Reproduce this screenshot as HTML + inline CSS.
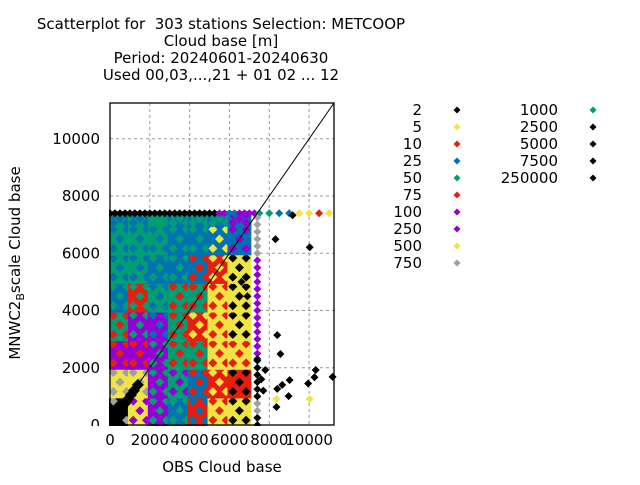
<!DOCTYPE html>
<html><head><meta charset="utf-8"><style>
body{margin:0;background:#fff;width:640px;height:480px;overflow:hidden;font-family:"Liberation Sans","DejaVu Sans",sans-serif}
svg text{font-family:"DejaVu Sans","Liberation Sans",sans-serif}
</style></head><body>
<svg id="chart" width="640" height="480">
<g id="titles" font-size="15" text-anchor="middle" fill="#000">
<text x="221" y="29">Scatterplot for &#160;303 stations Selection: METCOOP</text>
<text x="221" y="46">Cloud base [m]</text>
<text x="221" y="63">Period: 20240601-20240630</text>
<text x="221" y="80">Used 00,03,...,21 + 01 02 ... 12</text>
</g>
<g id="plot"></g>
<text x="222" y="472" font-size="15" text-anchor="middle">OBS Cloud base</text>
<text transform="translate(20,263) rotate(-90)" font-size="15" text-anchor="middle">MNWC2<tspan font-size="11" dy="4">B</tspan><tspan dy="-4">scale Cloud base</tspan></text>
<g id="legend"></g>
</svg>
<script>
const NS='http://www.w3.org/2000/svg';
const xTicks=[0,2000,4000,6000,8000,10000];
const yTicks=[0,2000,4000,6000,8000,10000];
const xMax=11250, yMax=11250;
const legendLabels=['2','5','10','25','50','75','100','250','500','750','1000','2500','5000','7500','250000'];
const legendColors=['#000','#f0e442','#e51e10','#0072b2','#009e73','#e51e10','#9400d3','#9400d3','#f0e442','#a0a0a0','#009e73','#000','#000','#000','#000'];
const cellRowsMain=[
 'KYPBRYY',
 'YYPTBRR',
 'PPPTTYY',
 'TPPTRYY',
 'BRTTTYY',
 'TTBBBRY',
 'TTTBBBB',
 'TTTBBBB'];
const cellRowsSecond=[
 'GPTTBRK',
 'GGTPRYK',
 'RRTRRRR',
 'RTBRYRK',
 'TTBRRRK',
 'BBTTRYK',
 'BBBTTYP',
 'BBTTTTP'];
const topRowX=[0,500,1000,1500,2000,2500,3000,3500,4000,4500,5000,5500,6000,6500,7000,7500,8000,8500,9000,9500,10000,10500,11000];
const topRowC=['K','K','K','K','K','K','K','K','K','K','K','P','B','P','P','T','T','B','B','Y','Y','R','Y'];
const rightColY=[0,500,1000,1500,2000,2500,3000,3500,4000,4500,5000,5500,6000,6500,7000];
const rightColC=['K','G','K','K','K','P','P','P','P','P','P','P','G','G','G'];
const ptX=[9170,8310,10030,8400,8560,7800,10330,10270,11180,9020,8400,8650,9950,8970,8360,10030,8360,7700,7600,7400,6900,6600];
const ptY=[7330,6490,6210,3140,2480,1920,1920,1670,1680,1570,1260,1400,1450,1010,630,910,910,1200,1600,2300,4500,5000];
const ptC=['K','K','K','K','K','K','K','K','K','K','K','K','K','K','K','Y','Y','K','K','K','K','K'];
const diagV=[0,150,300,450,600,750,900,1050,1200,1400];
const palette={K:'#000',Y:'#f0e442',R:'#e51e10',B:'#0072b2',T:'#009e73',P:'#9400d3',G:'#a0a0a0'};
const L=110,R=334,T=103,B=425;
const sx=v=>L+v/xMax*(R-L), sy=v=>B-v/yMax*(B-T);
const g=document.getElementById('plot');
function mk(t,a,p){const e=document.createElementNS(NS,t);for(const k in a)e.setAttribute(k,a[k]);(p||g).appendChild(e);return e;}
xTicks.forEach(v=>{if(v>0){const l=mk('line',{x1:sx(v),x2:sx(v),y1:T,y2:B,stroke:'#999','stroke-dasharray':'3,3'});

}
const t=mk('text',{x:sx(v),y:B+20,'font-size':15,'text-anchor':'middle'});t.textContent=v;

});
yTicks.forEach(v=>{if(v>0){const l=mk('line',{x1:L,x2:R,y1:sy(v),y2:sy(v),stroke:'#999','stroke-dasharray':'3,3'});

}
const t=mk('text',{x:L-10,y:sy(v)+5,'font-size':15,'text-anchor':'end'});t.textContent=v;

});
function dia(x,y,c,s){return mk('path',{d:`M${x-s},${y}L${x},${y-s}L${x+s},${y}L${x},${y+s}Z`,fill:c});}
const cellTop=[1000,2000,3000,4000,5000,6000,7000,7400];
cellRowsMain.forEach((row,r)=>{[...row].forEach((ch,c)=>{
 const x0=c*1000,x1=Math.min(c*1000+1000,7400),y0=r*1000,y1=cellTop[r];
 const rc=mk('rect',{x:sx(x0)-2,y:sy(y1)-2,width:sx(x1)-sx(x0)+4,height:sy(y0)-sy(y1)+4,fill:palette[ch]});
 
 
 const s2=palette[cellRowsSecond[r][c]];
 for(let i=0;i<3;i++)for(let j=0;j<3;j++){if((i+j)%2)continue;
  const d=dia(sx(x0+(i+0.5)*(x1-x0)/3),sy(y0+(j+0.5)*(y1-y0)/3),s2,4.5);
  
  }
});});
topRowX.forEach((v,i)=>{const d=dia(sx(v),sy(7400),palette[topRowC[i]],4);


if(v<7400){const d2=dia(sx(v+250),sy(7400),palette[topRowC[i]],4);

}});
rightColY.forEach((v,i)=>{const d=dia(sx(7400),sy(v),palette[rightColC[i]],4);


const d2=dia(sx(7400),sy(v+250),palette[rightColC[i]],4);

});
diagV.forEach(v=>{const d=dia(sx(v),sy(v),'#000',6);

});
ptX.forEach((v,i)=>{const d=dia(sx(v),sy(ptY[i]),palette[ptC[i]],4);

});
const dl=mk('line',{x1:L,y1:B,x2:R,y2:T,stroke:'#000','stroke-width':1});


const wb=mk('rect',{x:0,y:B+1,width:R+10,height:8,fill:'#fff'});


const wl=mk('rect',{x:L-10,y:T,width:9,height:B-T+8,fill:'#fff'});


const fr=mk('rect',{x:L,y:T,width:R-L,height:B-T,fill:'none',stroke:'#000','stroke-width':1.3});


const lg=document.getElementById('legend');
legendLabels.forEach((s,i)=>{const col=i<10?0:1,row=i<10?i:i-10;
const tx=col?558:422,mx=col?593:457,y=110+row*17;
const t=mk('text',{x:tx,y:y+5,'font-size':15,'text-anchor':'end'},lg);t.textContent=s;


const d=mk('path',{d:`M${mx-3.5},${y}L${mx},${y-3.5}L${mx+3.5},${y}L${mx},${y+3.5}Z`,fill:legendColors[i]},lg);

});
</script>
</body></html>
